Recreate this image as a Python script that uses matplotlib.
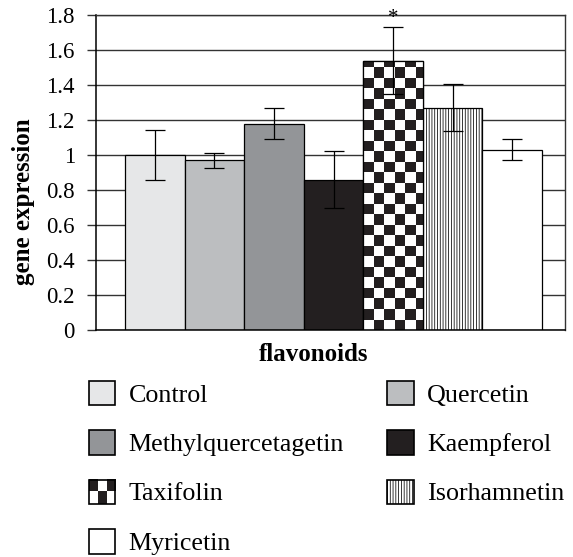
import numpy as np
import matplotlib
matplotlib.use("Agg")
import matplotlib.pyplot as plt
from matplotlib.patches import Rectangle
from matplotlib.colors import ListedColormap

# ---- data ----
categories = ['Control', 'Quercetin', 'Methylquercetagetin', 'Kaempferol',
              'Taxifolin', 'Isorhamnetin', 'Myricetin']
values = [1.00, 0.97, 1.18, 0.86, 1.54, 1.27, 1.03]
errors = [0.145, 0.043, 0.09, 0.163, 0.19, 0.135, 0.06]
y_ticks = [0, 0.2, 0.4, 0.6, 0.8, 1.0, 1.2, 1.4, 1.6, 1.8]
y_tick_labels = ['0', '0.2', '0.4', '0.6', '0.8', '1', '1.2', '1.4', '1.6', '1.8']
significant = ['Taxifolin']
x_label = 'flavonoids'
y_label = 'gene expression'

# ---- style ----
face = ['#e6e7e8', '#bcbec0', '#939598', '#231f20', 'checker', 'white', 'white']
hatches = [None, None, None, None, None, '||||||', None]
checker_cmap = ListedColormap(['white', '#231f20'])
grid_col = '#333333'

plt.rcParams['font.family'] = ['Liberation Serif', 'DejaVu Serif']
plt.rcParams['hatch.linewidth'] = 0.55

W, H = 573, 557
fig = plt.figure(figsize=(W / 100, H / 100), dpi=100)
ax = fig.add_axes([96 / W, 1 - 330 / H, (565 - 96) / W, (330 - 15) / H])

x = np.arange(len(categories))
fc = [c if c != 'checker' else 'white' for c in face]
bars = ax.bar(x, values, width=1.0, color=fc, edgecolor='black', linewidth=0.9,
              zorder=2)
for b, h in zip(bars, hatches):
    if h:
        b.set_hatch(h)
ax.errorbar(x, values, yerr=errors, fmt='none', ecolor='black', elinewidth=0.9,
            capsize=7.2, capthick=0.9, zorder=4)

ax.set_xlim(-0.987, 6.886)
ax.set_ylim(0, 1.8)

# checkerboard fill for Taxifolin, clipped to its bar
cx, cy = 10.5 / 59.6, 10.5 / 175.0
for b, c in zip(bars, face):
    if c != 'checker':
        continue
    x0, w, h = b.get_x(), b.get_width(), b.get_height()
    nx, ny = int(np.ceil(w / cx)), int(np.ceil(h / cy))
    jj, ii = np.indices((ny, nx))
    arr = (ii + jj) % 2
    im = ax.imshow(arr, cmap=checker_cmap, origin='lower', interpolation='nearest',
                   extent=(x0, x0 + nx * cx, 0, ny * cy), aspect='auto', zorder=2.5)
    im.set_clip_path(b)
    ax.bar(b.get_x() + w / 2, h, width=w, facecolor='none', edgecolor='black',
           linewidth=0.9, zorder=3)
ax.set_xlim(-0.987, 6.886)
ax.set_ylim(0, 1.8)

# significance marker
for cat in significant:
    i = categories.index(cat)
    ax.annotate('*', (x[i], values[i] + errors[i]), xytext=(0, 3),
                textcoords='offset points', ha='center', va='baseline',
                fontsize=15, annotation_clip=False, zorder=5)

ax.set_yticks(y_ticks)
ax.set_yticklabels(y_tick_labels)
ax.set_xticks([])
ax.yaxis.grid(True, color=grid_col, linewidth=1.0, zorder=0)
ax.set_axisbelow(True)
ax.tick_params(axis='y', direction='out', length=6.7, width=1.0, color=grid_col,
               pad=8.5, labelsize=16.5)
for s in ['left', 'bottom']:
    ax.spines[s].set_color('black')
    ax.spines[s].set_linewidth(1.1)
for s in ['top', 'right']:
    ax.spines[s].set_color(grid_col)
    ax.spines[s].set_linewidth(1.0)

ax.set_ylabel(y_label, fontsize=18, fontweight='bold', va='center')
ax.yaxis.set_label_coords((23.5 - 96) / 469, (330 - 202) / 315)
ax.set_xlabel(x_label, fontsize=18, fontweight='bold', va='baseline')
ax.xaxis.set_label_coords((314 - 96) / 469, (330 - 361) / 315)

# ---- legend (drawn in a pixel-coordinate overlay) ----
lax = fig.add_axes([0, 0, 1, 1])
lax.set_xlim(0, W)
lax.set_ylim(H, 0)
lax.axis('off')
lax.patch.set_alpha(0)
col_x = [88.5, 387]
row_y = [393, 442.5, 492, 541.5]
pw, ph = 26.5, 24.5
for k, cat in enumerate(categories):
    r, c = divmod(k, 2)
    px, py = col_x[c], row_y[r]
    if face[k] == 'checker':
        leg_arr = np.array([[1, 0, 1], [0, 1, 0]])
        lax.imshow(leg_arr, cmap=checker_cmap, origin='upper',
                   interpolation='nearest', aspect='auto',
                   extent=(px, px + pw, py + ph / 2, py - ph / 2), zorder=2)
        lax.add_patch(Rectangle((px, py - ph / 2), pw, ph, facecolor='none',
                                edgecolor='black', linewidth=1.2, zorder=3))
    else:
        lax.add_patch(Rectangle((px, py - ph / 2), pw, ph, facecolor=face[k],
                                edgecolor='black', linewidth=1.2,
                                hatch=hatches[k], zorder=2))
    lax.text(px + pw + 13.5, py + 8.5, cat, fontsize=18.7, va='baseline', ha='left')
lax.set_xlim(0, W)
lax.set_ylim(H, 0)

fig.savefig('out.png', dpi=100)
